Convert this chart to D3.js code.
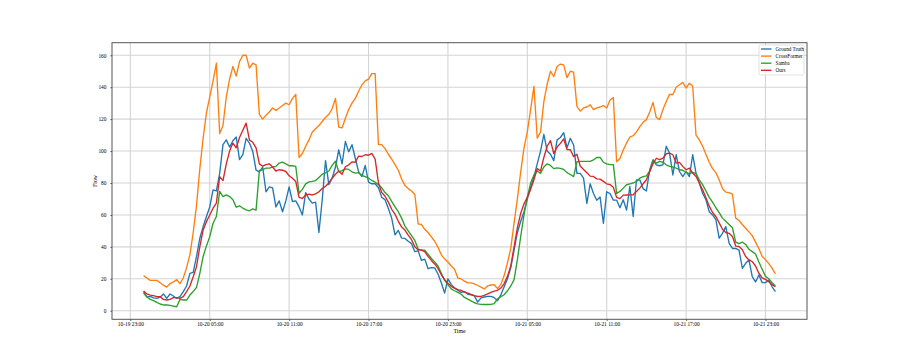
<!DOCTYPE html>
<html>
<head>
<meta charset="utf-8">
<script src="https://cdn.jsdelivr.net/npm/d3@7"></script>
<style>
  body { margin: 0; background: #fff; }
  text { font-family: "Liberation Serif", "Times New Roman", serif; fill: #000; }
</style>
</head>
<body>
<svg id="chart" width="897" height="359"></svg>
<script>
// series, 15 minute steps from 10-20 00:00
var seriesNames = ["Ground Truth", "CrossFormer", "Samba", "Ours"];
var seriesColors = ["#1f77b4", "#ff7f0e", "#2ca02c", "#d62728"];
var startTime = "2022-10-20 00:00";
var stepMinutes = 15;
var xTickLabels = ["10-19 23:00", "10-20 05:00", "10-20 11:00", "10-20 17:00", "10-20 23:00",
                   "10-21 05:00", "10-21 11:00", "10-21 17:00", "10-21 23:00"];
var yTicks = [0, 20, 40, 60, 80, 100, 120, 140, 160];

var groundTruth = [
  12, 8.5, 9, 8, 7.7, 8.5, 10.5, 7.7, 10.5, 9.2,
  7.7, 8.8, 12, 15.5, 23.4, 24, 34, 45.4, 52.7, 59,
  65, 75.7, 75, 86, 104, 107, 102.5, 106.5, 108.8, 94.6,
  97.7, 108, 105, 99.8, 88, 87, 90, 74.5, 77.6, 77,
  65, 68.8, 62, 68.8, 77.6, 68.4, 68.8, 65, 60, 74,
  70, 67.4, 68, 49, 69.5, 94, 79, 83, 90, 100.8,
  92, 106, 99.5, 104, 95.5, 87, 84, 91, 80.5, 79.5,
  79.5, 77, 71, 69.5, 64, 58, 47.5, 50.3, 45.5, 45.3,
  43.5, 42, 37, 37.5, 31.5, 32.3, 26.3, 27, 26.8, 23,
  17.5, 11, 20, 16.5, 14.3, 12.8, 11.5, 12, 10.3, 10,
  9.3, 5.4, 8, 8.6, 9, 9, 8.2, 6.3, 10, 15,
  20, 27, 38, 49, 56, 62, 70, 77, 84, 92,
  100, 110.5, 100, 98, 94, 107, 108.5, 111.5, 102, 108,
  103.8, 86, 86, 83, 67.2, 79.5, 73.4, 69.2, 71.2, 54.8,
  74.5, 73.4, 69.3, 69.3, 64.5, 69.5, 63, 77.8, 59, 82,
  82, 76.5, 75, 88.3, 94.6, 91.4, 90.8, 91.4, 103, 98.7,
  85, 97.7, 87.2, 84, 87.2, 84, 97.7, 86.2, 80, 73.6,
  69.5, 62, 60, 57, 45.4, 48.5, 52.7, 42.3, 39, 39,
  38, 26.6, 29.7, 31.8, 21.3, 18, 22.4, 17.6, 17.6, 19.2,
  15, 12
];

var crossFormer = [
  22, 20.5, 19, 19, 19, 17.5, 16, 14.8, 17, 18,
  19.5, 17, 20.5, 27, 35, 49, 66, 89, 108, 124,
  134, 144, 155, 111, 116, 134, 145, 153, 147, 156,
  160, 160, 152, 155, 154, 123, 120, 122.5, 124.5, 127,
  125.5, 127, 128.5, 130, 129, 133, 135.5, 96, 98.5, 103,
  107, 112, 114, 116, 118.5, 121, 123, 126.5, 133, 115,
  114.5, 120.5, 126, 130, 133, 137.5, 141.5, 144, 145, 148.5,
  148.5, 104, 104, 101.5, 98, 95, 91.5, 88, 82.5, 78.5,
  76.5, 75, 72.8, 54.4, 54, 51, 49, 46.3, 43.5, 39.7,
  35, 32.5, 30.5, 28, 26, 20.5, 20, 18.5, 17.4, 17.4,
  16.8, 15.8, 14.8, 13.6, 15.5, 16.1, 16.3, 13.8, 16.5, 22,
  30, 39, 55, 70, 87, 102, 112, 126, 140.5, 108,
  112, 131, 142, 150, 146.7, 153, 154.5, 154, 146, 150,
  149.4, 128, 125, 127, 127.6, 129, 126, 127, 127.6, 128.5,
  127, 132, 133.5, 93.3, 95.4, 100.6, 105, 108.8, 109.6, 112,
  115.3, 118, 119.7, 124.5, 130.5, 121, 119.7, 126, 131, 135.5,
  135.4, 140, 141.5, 143, 139.5, 142.5, 140.6, 110, 107, 103,
  98, 93, 89, 86.5, 82, 76.5, 74.3, 74, 73, 58,
  56.5, 54, 51.7, 49.4, 47, 43, 39, 34, 32, 29.5,
  26.7, 23
];

var samba = [
  10.9, 8.8, 7.1, 6.3, 5.2, 4.2, 3.6, 3.6, 3.3, 2.9,
  2.5, 7.1, 6.7, 6.7, 9.8, 12, 14.6, 23.4, 34, 40.6,
  46.4, 54.8, 59, 74.7, 71.5, 72.6, 71.5, 69.5, 64.9, 65.7,
  64.2, 63.2, 62.6, 63.8, 63, 87.9, 88.3, 89.3, 89.3, 90,
  90.4, 92.5, 93.1, 92, 90.8, 90.8, 90.4, 73.6, 76, 79.5,
  80.7, 81, 81.5, 83.5, 85.5, 86.4, 87.5, 91, 93.6, 87,
  87.8, 88.8, 88.5, 87, 86.2, 86.5, 84.7, 84, 83, 81.6,
  80.5, 79, 77, 74, 72, 68.5, 65, 62, 58, 53,
  50, 47, 44, 38.6, 38, 38, 35.3, 32.7, 30.6, 28,
  23.5, 19, 16.3, 13.7, 12.5, 11.5, 10.3, 8.3, 7.3, 6.2,
  5, 4.3, 4, 3.9, 3.9, 4, 4.5, 7.5, 8.8, 10,
  12.5, 15.5, 19.5, 32, 46.5, 60, 71, 80, 85, 87.5,
  86, 90, 92, 91, 89, 89.5, 89.2, 88.5, 86.5, 85.3,
  84, 93.3, 93.5, 93.5, 93.5, 93.5, 94.5, 96, 96, 93,
  92, 91.5, 91.5, 73.5, 74.7, 76.8, 78.9, 79.5, 80, 81,
  83, 84, 84.5, 87.5, 94, 92.5, 93.5, 93, 91.4, 90.4,
  90, 89.3, 88.3, 88, 86.6, 85.8, 86.6, 85.8, 82, 79,
  75, 71, 68, 64.5, 61.5, 58, 56, 54, 52, 43,
  42, 43, 41.5, 38.5, 37, 35.5, 30.5, 26, 21.5, 20,
  17.5, 15.5
];

var ours = [
  12.3, 10.5, 9.8, 9.4, 8.8, 8.8, 7.1, 6.7, 7.1, 8.2,
  8.2, 7.7, 8.8, 12, 15.5, 21.3, 27.6, 40.2, 50.6, 55.8,
  60, 64.2, 67.4, 84, 81.5, 92, 100, 105, 102, 108.5,
  113, 117.5, 107, 105.5, 102, 92, 90.5, 91.5, 92, 90,
  87.5, 88.3, 88, 87.2, 84.5, 83, 81, 71, 70.3, 72.5,
  73, 72.5, 73.2, 74.5, 76.5, 78, 80, 83, 85.5, 87.5,
  85.5, 90.2, 91.4, 93.2, 93, 96.8, 96.6, 97.7, 97.4, 98.5,
  95, 80, 74, 71.7, 68, 63.5, 60.5, 56, 52.5, 50.5,
  47.3, 44.5, 40, 38, 38, 37, 34, 31.5, 29.3, 26.5,
  22.5, 19.5, 17.2, 15.3, 14.2, 13.2, 12.7, 11.6, 11, 10.2,
  9.5, 8.9, 9, 9.6, 10.5, 11.5, 12.3, 12.8, 14.2, 17,
  21.5, 28, 40, 52, 61, 67, 71, 76, 82, 89,
  87.5, 96, 103, 106.5, 98.5, 102.5, 104.8, 107.7, 101, 100.8,
  96.5, 98, 90.6, 88.5, 86.4, 84.3, 84.1, 82.6, 82.4, 81,
  79.5, 79, 77.3, 71, 70.2, 72.4, 72.5, 72.6, 72.6, 74.7,
  76.8, 79.5, 82, 87, 92, 95.5, 94.6, 95.6, 98.3, 98.7,
  97.7, 92.5, 92.9, 90.4, 88.3, 89.3, 86.2, 84.1, 80, 75.7,
  70.8, 65.5, 61.5, 59, 55, 51, 49, 48.5, 46.5, 40.5,
  40.2, 38.2, 34, 31.8, 30.8, 28, 23.5, 20.5, 19.7, 18.2,
  16.3, 15
];

var allSeries = [groundTruth, crossFormer, samba, ours];

document.addEventListener('DOMContentLoaded', function() {
  var svg = d3.select('#chart');
  var margin = {top: 42.7, right: 90, bottom: 39.7, left: 112};
  var width = 897, height = 359;

  var t0 = d3.timeParse("%Y-%m-%d %H:%M")(startTime);
  var times = groundTruth.map(function(d, i) { return d3.timeMinute.offset(t0, i * stepMinutes); });

  // matplotlib style 5% padding
  var tExt = d3.extent(times);
  var tPad = (tExt[1] - tExt[0]) * 0.05;
  var x = d3.scaleTime()
    .domain([new Date(+tExt[0] - tPad), new Date(+tExt[1] + tPad)])
    .range([margin.left, width - margin.right]);

  var vExt = d3.extent(d3.merge(allSeries));
  var vPad = (vExt[1] - vExt[0]) * 0.05;
  var y = d3.scaleLinear()
    .domain([vExt[0] - vPad, vExt[1] + vPad])
    .range([height - margin.bottom, margin.top]);

  var parseTick = d3.timeParse("%Y %m-%d %H:%M");
  var xTicks = xTickLabels.map(function(s) { return parseTick("2022 " + s); });

  svg.append("rect").attr("width", width).attr("height", height).attr("fill", "#fff");

  // grid
  svg.append("g")
    .selectAll("line").data(xTicks).enter().append("line")
    .attr("x1", function(d) { return x(d); }).attr("x2", function(d) { return x(d); })
    .attr("y1", margin.top).attr("y2", height - margin.bottom)
    .attr("stroke", "#d4d4d4").attr("stroke-width", 1.1);
  svg.append("g")
    .selectAll("line").data(yTicks).enter().append("line")
    .attr("x1", margin.left).attr("x2", width - margin.right)
    .attr("y1", function(d) { return y(d); }).attr("y2", function(d) { return y(d); })
    .attr("stroke", "#d4d4d4").attr("stroke-width", 1.1);

  // axes
  svg.append("g")
    .attr("transform", "translate(0," + (height - margin.bottom) + ")")
    .call(d3.axisBottom(x).tickValues(xTicks).tickFormat(d3.timeFormat("%m-%d %H:%M"))
      .tickSize(1.5).tickPadding(1.5).tickSizeOuter(0))
    .call(function(g) { g.select(".domain").remove(); })
    .call(function(g) { g.selectAll(".tick line").attr("stroke", "#444"); })
    .call(function(g) { g.selectAll(".tick text").style("font-size", "5.4px"); });

  svg.append("g")
    .attr("transform", "translate(" + margin.left + ",0)")
    .call(d3.axisLeft(y).tickValues(yTicks).tickSize(1.5).tickPadding(4).tickSizeOuter(0))
    .call(function(g) { g.select(".domain").remove(); })
    .call(function(g) { g.selectAll(".tick line").attr("stroke", "#444"); })
    .call(function(g) { g.selectAll(".tick text").style("font-size", "5.4px"); });

  // lines
  var line = d3.line()
    .x(function(d, i) { return x(times[i]); })
    .y(function(d) { return y(d); });

  svg.append("g")
    .selectAll("path").data(allSeries).enter().append("path")
    .attr("d", line)
    .attr("fill", "none")
    .attr("stroke", function(d, i) { return seriesColors[i]; })
    .attr("stroke-width", 1.35)
    .attr("stroke-linejoin", "round");

  // frame
  svg.append("rect")
    .attr("x", margin.left).attr("y", margin.top)
    .attr("width", width - margin.left - margin.right)
    .attr("height", height - margin.top - margin.bottom)
    .attr("fill", "none").attr("stroke", "#555").attr("stroke-width", 1);

  // labels
  svg.append("text")
    .attr("x", (margin.left + width - margin.right) / 2)
    .attr("y", 333)
    .attr("text-anchor", "middle")
    .style("font-size", "5.8px")
    .text("Time");

  svg.append("text")
    .attr("transform", "translate(97," + ((margin.top + height - margin.bottom) / 2) + ") rotate(-90)")
    .attr("text-anchor", "middle")
    .style("font-size", "5.8px")
    .text("Flow");

  // legend
  var lg = svg.append("g").attr("transform", "translate(759,45)");
  lg.append("rect")
    .attr("width", 45).attr("height", 30).attr("rx", 1.5)
    .attr("fill", "#fff").attr("fill-opacity", 0.8)
    .attr("stroke", "#d8d8d8").attr("stroke-width", 0.8);
  var items = lg.selectAll("g.item").data(seriesNames).enter().append("g")
    .attr("transform", function(d, i) { return "translate(0," + (4 + i * 7.1) + ")"; });
  items.append("line")
    .attr("x1", 2).attr("x2", 12.5)
    .attr("stroke", function(d, i) { return seriesColors[i]; })
    .attr("stroke-width", 1.35);
  items.append("text")
    .attr("x", 16.5).attr("dy", "0.35em")
    .style("font-size", "5.2px")
    .text(function(d) { return d; });
});
</script>
</body>
</html>
